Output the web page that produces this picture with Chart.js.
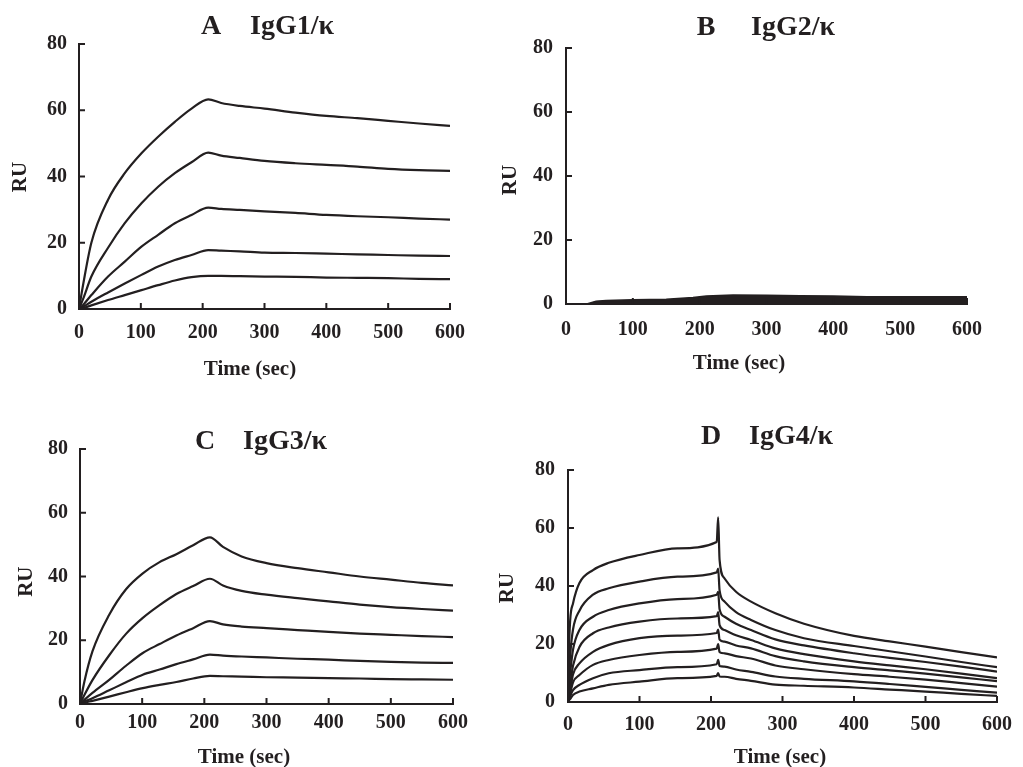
<!DOCTYPE html>
<html>
<head>
<meta charset="utf-8">
<script src="https://cdn.jsdelivr.net/npm/chart.js@4.4.1/dist/chart.umd.min.js"></script>
<style>
body { margin: 0; background: #fff; width: 1023px; height: 767px; position: relative; overflow: hidden; }
canvas { position: absolute; }
</style>
</head>
<body>
<canvas id="chartA" width="490" height="383" style="left:0;top:0"></canvas>
<canvas id="chartB" width="533" height="383" style="left:490px;top:0"></canvas>
<canvas id="chartC" width="490" height="384" style="left:0;top:383px"></canvas>
<canvas id="chartD" width="533" height="384" style="left:490px;top:383px"></canvas>
<script>
const INK = '#231f20';

// A - IgG1/k (5 concentrations)
const timeA = [0, 7, 20, 47, 74, 101, 128, 155, 182, 209, 230, 260, 300, 350, 400, 450, 500, 550, 600];
const a1 = [0, 7.7, 20, 33, 41, 47, 52, 56.5, 60.5, 63.3, 62.2, 61.3, 60.5, 59.3, 58.3, 57.6, 56.8, 56, 55.3];
const a2 = [0, 3.2, 9.8, 18.5, 25.9, 31.9, 36.9, 41, 44.3, 47.2, 46.3, 45.6, 44.7, 44, 43.5, 43, 42.3, 41.9, 41.7];
const a3 = [0, 1.3, 4.2, 9.8, 14.3, 18.8, 22.4, 25.9, 28.4, 30.6, 30.2, 29.9, 29.5, 29, 28.4, 28, 27.7, 27.3, 27];
const a4 = [0, 0.7, 2.2, 5.0, 7.7, 10.3, 12.8, 14.8, 16.3, 17.8, 17.6, 17.4, 17, 16.9, 16.7, 16.5, 16.3, 16.1, 16];
const a5 = [0, 0.3, 1.1, 2.7, 4.2, 5.7, 7.2, 8.6, 9.6, 10, 10, 9.9, 9.8, 9.7, 9.5, 9.4, 9.3, 9.1, 9];

// B - IgG2/k (no binding, noisy band near 0)
const timeB = [0, 31, 45, 60, 100, 150, 190, 210, 250, 300, 350, 400, 450, 500, 550, 600];
const bTop = [0, 0, 0.9, 1.1, 1.3, 1.5, 2.0, 2.5, 2.8, 2.7, 2.6, 2.5, 2.3, 2.3, 2.3, 2.3];

// C - IgG3/k
const timeC = [0, 7, 20, 47, 74, 101, 128, 155, 182, 209, 230, 260, 300, 350, 400, 450, 500, 550, 600];
const c1 = [0, 7, 16.5, 28, 36, 41, 44.5, 47, 49.8, 52.3, 49.3, 46.3, 44.2, 42.6, 41.3, 40, 39, 38, 37.2];
const c2 = [0, 2.8, 7.5, 15.3, 22, 27, 31, 34.5, 37, 39.3, 37.2, 35.5, 34.3, 33.2, 32.2, 31.2, 30.4, 29.8, 29.3];
const c3 = [0, 1.3, 3.5, 7.6, 12, 16, 18.8, 21.5, 23.8, 26, 25, 24.3, 23.8, 23.2, 22.6, 22.1, 21.7, 21.3, 21];
const c4 = [0, 0.7, 1.8, 4.3, 6.8, 9.2, 10.8, 12.5, 14, 15.5, 15.2, 14.9, 14.6, 14.2, 13.9, 13.5, 13.2, 13, 12.9];
const c5 = [0, 0.4, 1, 2.3, 3.7, 5, 6, 6.9, 8, 8.8, 8.7, 8.6, 8.4, 8.3, 8.1, 8, 7.8, 7.7, 7.6];

// D - IgG4/k (8 concentrations, injection spike at 210 s)
const timeD = [0, 1, 3, 7, 16, 35, 57, 100, 153, 208, 210, 212, 219, 235, 256, 290, 330, 400, 450, 500, 550, 600];
const d1 = [0, 15, 28, 34, 41, 45.5, 48, 50.7, 53, 55.2, 63.7, 49, 42.6, 38, 34.6, 30.6, 27, 22.8, 20.9, 19.1, 17.2, 15.4];
const d2 = [0, 8, 16, 25, 31.5, 37, 39.2, 41.5, 43.2, 44.7, 46, 38.5, 34.6, 31, 28.3, 24.8, 22, 19.3, 17.5, 15.7, 13.8, 12];
const d3 = [0, 5, 10, 18, 24.8, 29.4, 31.7, 34, 35.5, 37, 38, 32, 29.4, 27, 24.8, 21.6, 19.5, 16.8, 15.2, 13.8, 12.2, 10.5];
const d4 = [0, 3, 6, 12.5, 19, 23.7, 25.7, 27.7, 28.8, 29.6, 31, 26.5, 24.8, 23, 21.4, 18.5, 16.5, 14, 12.6, 11.3, 9.8, 8.2];
const d5 = [0, 2, 4, 9.5, 13.3, 17.3, 19.7, 22, 22.9, 23.8, 25, 21.5, 20.8, 19.5, 18.5, 15.8, 14, 12, 10.9, 9.8, 8.5, 7.2];
const d6 = [0, 1.5, 3, 6.8, 9.3, 12.8, 14.5, 16.2, 17.3, 18.4, 20, 17.2, 16.8, 15.8, 15, 12.6, 11.3, 9.6, 8.7, 7.7, 6.5, 5.3];
const d7 = [0, 1, 2, 4.1, 5.9, 8.2, 9.9, 11, 12, 13, 14.5, 12.4, 12.2, 11.2, 10.4, 8.8, 8, 7.1, 6.2, 5.2, 4.2, 3.2];
const d8 = [0, 0.5, 1, 2.4, 3.6, 4.7, 5.9, 7, 8.2, 9, 10, 8.8, 8.7, 8, 7.3, 6, 5.6, 5, 4.3, 3.6, 2.8, 2.1];

Chart.defaults.font.family = '"Liberation Serif", "Times New Roman", serif';
Chart.defaults.color = INK;

const pts = (times, vals) => times.map((t, i) => ({ x: t, y: vals[i] }));
const curve = (times, vals) => ({ data: pts(times, vals), borderColor: INK, borderWidth: 2.2, pointRadius: 0, fill: false, cubicInterpolationMode: 'monotone' });

// tick marks point inward, like the original figure
const inwardTicks = {
    id: 'inwardTicks',
    afterDraw(chart) {
        const { ctx, chartArea, scales: { x, y } } = chart;
        ctx.save();
        ctx.strokeStyle = INK;
        ctx.lineWidth = 2;
        ctx.beginPath();
        x.ticks.forEach(t => {
            const px = x.getPixelForValue(t.value);
            ctx.moveTo(px, chartArea.bottom);
            ctx.lineTo(px, chartArea.bottom - 6);
        });
        y.ticks.forEach(t => {
            const py = y.getPixelForValue(t.value);
            ctx.moveTo(chartArea.left, py);
            ctx.lineTo(chartArea.left + 6, py);
        });
        ctx.stroke();
        ctx.restore();
    }
};

// panel letter, title and axis titles
const panelText = {
    id: 'panelText',
    afterDraw(chart, args, o) {
        const ctx = chart.ctx;
        ctx.save();
        ctx.fillStyle = INK;
        ctx.textAlign = 'center';
        ctx.textBaseline = 'middle';
        ctx.font = 'bold 28px "Liberation Serif"';
        ctx.fillText(o.letter, o.letterX, o.titleY);
        ctx.fillText(o.name, o.nameX, o.titleY);
        ctx.font = 'bold 21px "Liberation Serif"';
        ctx.fillText('Time (sec)', o.timeX, o.timeY);
        ctx.translate(o.ruX, o.ruY);
        ctx.rotate(-Math.PI / 2);
        ctx.fillText('RU', 0, 0);
        ctx.restore();
    }
};

function makePanel(id, box, xPad, yPad, text, datasets) {
    return new Chart(document.getElementById(id), {
        type: 'line',
        data: { datasets },
        options: {
            responsive: false,
            animation: false,
            layout: { padding: { left: 0, top: box.top, right: box.w - box.right, bottom: 0 } },
            plugins: { legend: { display: false }, tooltip: { enabled: false }, colors: { enabled: false }, panelText: text },
            scales: {
                x: {
                    type: 'linear', min: 0, max: 600,
                    ticks: { stepSize: 100, padding: xPad, autoSkip: false, maxRotation: 0, color: INK, font: { size: 20, weight: 'bold' } },
                    grid: { display: false, drawTicks: false },
                    border: { display: true, color: INK, width: 2 },
                    afterFit: s => { s.height = box.h - box.bottom; }
                },
                y: {
                    min: 0, max: 80,
                    ticks: { stepSize: 20, padding: yPad, color: INK, font: { size: 20, weight: 'bold' } },
                    grid: { display: false, drawTicks: false },
                    border: { display: true, color: INK, width: 2 },
                    afterFit: s => { s.width = box.left; }
                }
            }
        },
        plugins: [inwardTicks, panelText]
    });
}

makePanel('chartA', { w: 490, h: 383, left: 79, right: 450, top: 44, bottom: 309 }, 12, 12,
    { letter: 'A', name: 'IgG1/\u03ba', letterX: 211, nameX: 292, titleY: 27, timeX: 250, timeY: 370, ruX: 20.5, ruY: 177 },
    [a1, a2, a3, a4, a5].map(v => curve(timeA, v)));

makePanel('chartB', { w: 533, h: 383, left: 76, right: 477, top: 48, bottom: 304 }, 14, 13,
    { letter: 'B', name: 'IgG2/\u03ba', letterX: 216, nameX: 303, titleY: 27.5, timeX: 249, timeY: 364, ruX: 21, ruY: 180 },
    [{ data: pts(timeB, bTop), borderColor: INK, backgroundColor: INK, borderWidth: 1.5, pointRadius: 0, fill: 'origin', tension: 0 }]);

makePanel('chartC', { w: 490, h: 384, left: 80, right: 453, top: 66, bottom: 321 }, 7, 12,
    { letter: 'C', name: 'IgG3/\u03ba', letterX: 205, nameX: 285, titleY: 58.7, timeX: 244, timeY: 375, ruX: 26.7, ruY: 198.7 },
    [c1, c2, c3, c4, c5].map(v => curve(timeC, v)));

makePanel('chartD', { w: 533, h: 384, left: 78, right: 516, top: 87, bottom: 319 }, 11, 13,
    { letter: 'D', name: 'IgG4/\u03ba', letterX: 221, nameX: 301, titleY: 54, timeX: 290, timeY: 375, ruX: 18, ruY: 205 },
    [d1, d2, d3, d4, d5, d6, d7, d8].map(v => curve(timeD, v)));
</script>
</body>
</html>
